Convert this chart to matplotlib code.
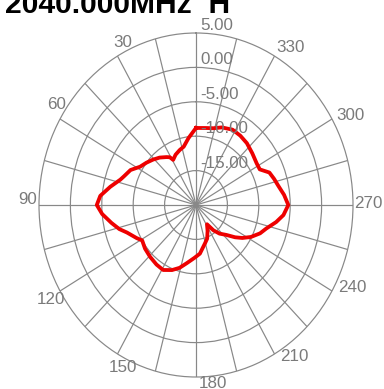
import numpy as np
import matplotlib
matplotlib.use("Agg")
import matplotlib.pyplot as plt

plt.rcParams['font.family'] = ['Liberation Sans', 'DejaVu Sans']

# antenna pattern, angle (deg, CCW from top) and level (dB)
angles = [0, 7, 13, 18, 24, 29, 31, 34, 40, 46, 52, 58, 64, 70, 73, 79, 85, 90,
          95, 101, 106, 110, 117, 121, 128, 136, 144, 151, 158, 164, 170, 178,
          185, 194, 200, 206, 212, 217, 222, 228, 233, 237, 242, 248, 253, 259,
          264, 270, 276, 282, 287, 292, 297, 302, 310, 318, 325, 332, 340, 346, 352]
levels = [-8.8, -10.2, -11.3, -11.6, -12.0, -12.5, -11.9, -11.6, -11.0, -10.5,
          -10.0, -9.5, -8.4, -7.8, -7.4, -6.1, -4.7, -4.2, -5.0, -6.3, -7.3,
          -8.3, -9.4, -10.0, -9.7, -9.5, -9.3, -9.2, -9.8, -10.5, -11.4, -12.3,
          -12.9, -14.2, -14.8, -15.8, -16.7, -15.4, -14.4, -13.5, -12.2, -11.2,
          -10.1, -9.0, -8.3, -7.0, -6.0, -5.3, -5.9, -6.6, -7.0, -7.4, -8.6,
          -8.6, -8.3, -7.9, -7.7, -7.6, -8.0, -8.5, -8.7]

title = "2040.000MHz  H"
r_min, r_max = -20, 5
ring_values = [5, 0, -5, -10, -15]
angle_labels = [30, 60, 90, 120, 150, 180, 210, 240, 270, 300, 330]
# label offsets from the outer ring (px)
label_offsets = {30: (5, 14), 60: (-3, 14), 90: (-11, 5), 120: (-9, -9),
                 150: (5, -14), 180: (17, -7), 210: (20, -3), 240: (20, 4),
                 270: (15, 2), 300: (18, 4), 330: (16, 9)}

grey = '#888888'
text_grey = '#7a7a7a'

fig = plt.figure(figsize=(384 / 72, 389 / 72), dpi=72, facecolor='white')
ax = fig.add_axes([39 / 384, 12 / 389, 314 / 384, 344 / 389], projection='polar')
ax.set_aspect('auto')
ax.set_theta_zero_location('N')
ax.set_theta_direction(1)
ax.set_ylim(r_min, r_max)

ax.set_thetagrids(np.arange(0, 360, 15), [''] * 24)
ax.set_rgrids([-15, -10, -5, 0], [''] * 4)
ax.grid(True, color=grey, linewidth=1.2)
ax.spines['polar'].set_color(grey)
ax.spines['polar'].set_linewidth(1.2)
ax.tick_params(length=0)

th = np.radians(angles + [angles[0]])
rr = levels + [levels[0]]
ax.plot(th, rr, color='#ee0000', linewidth=3.8, solid_joinstyle='round', zorder=3)

for v in ring_values:
    ax.annotate(f'{v:.2f}', xy=(0, v), xytext=(4, 3), textcoords='offset points',
                ha='left', va='baseline', fontsize=17, color=text_grey, zorder=5,
                annotation_clip=False)

for a in angle_labels:
    dx, dy = label_offsets[a]
    ax.annotate(str(a), xy=(np.radians(a), r_max), xytext=(dx, dy),
                textcoords='offset points', ha='center', va='center',
                fontsize=17, color=text_grey, annotation_clip=False)

fig.text(5 / 384, 1 - 13 / 389, title, ha='left', va='baseline',
         fontsize=30, fontweight='bold', color='black')

fig.savefig('out.png', dpi=72)
